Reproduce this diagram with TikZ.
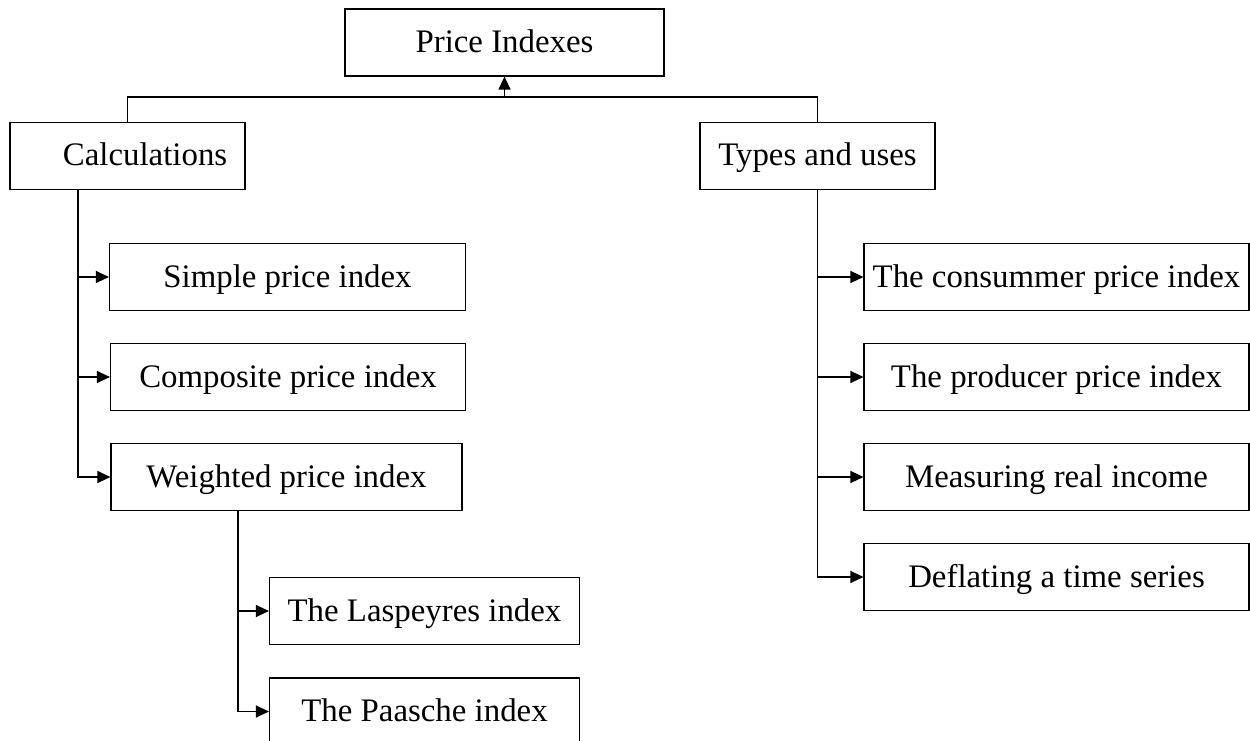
\documentclass[tikz,border=0pt]{standalone}
\usepackage{fontspec}
\setmainfont{Liberation Serif}
\usetikzlibrary{arrows.meta}

\tikzset{
  box/.style={draw, line width=0.7pt, minimum height=1.34cm, inner sep=0pt,
              text height=0.5cm, text depth=0.1cm,
              font=\fontsize{18.7}{22}\selectfont},
  arr/.style={-{Triangle[length=0.26cm, width=0.24cm]}, line width=0.7pt},
}

\begin{document}
\begin{tikzpicture}[x=0.02cm, y=-0.02cm]
\useasboundingbox (0,0) rectangle (1250,740);
\clip (0,0) rectangle (1250,740);
%
\node [box, minimum width=6.38cm] (top)   at (504.5, 42.5){Price Indexes};
\node [box, minimum width=4.7cm]  (calc)  at (127.5, 156) {\hspace*{1.07em}Calculations};
\node [box, minimum width=4.7cm]  (types) at (817.5, 156) {Types and uses};

\coordinate (bus) at (504.5, 97);
\draw[line width=0.7pt] (calc.north) |- (bus) -| (types.north);
\draw[arr] (bus) -- (top.south);

% calculations
\node [box, minimum width=7.12cm] (simple)    at (287.5, 277){Simple price index};
\node [box, minimum width=7.1cm]  (composite) at (288, 377)  {Composite price index};
\node [box, minimum width=7.02cm] (weighted)  at (286.5, 477){Weighted price index};

\draw[arr] ([xshift=-0.99cm]calc.south) |- (simple.west);
\draw[arr] ([xshift=-0.99cm]calc.south) |- (composite.west);
\draw[arr] ([xshift=-0.99cm]calc.south) |- (weighted.west);

\node [box, minimum width=6.2cm] (laspeyres) at (424.5, 611)  {The Laspeyres index};
\node [box, minimum width=6.2cm] (paasche)   at (424.5, 711.5){The Paasche index};

\draw[arr] ([xshift=-0.97cm]weighted.south) |- (laspeyres.west);
\draw[arr] ([xshift=-0.97cm]weighted.south) |- (paasche.west);

% types and uses
\node [box, minimum width=7.7cm] (consumer)  at (1056.5, 277){The consummer price index};
\node [box, minimum width=7.7cm] (producer)  at (1056.5, 377){The producer price index};
\node [box, minimum width=7.7cm] (income)    at (1056.5, 477){Measuring real income};
\node [box, minimum width=7.7cm] (deflating) at (1056.5, 577){Deflating a time series};

\draw[arr] (types.south) |- (consumer.west);
\draw[arr] (types.south) |- (producer.west);
\draw[arr] (types.south) |- (income.west);
\draw[arr] (types.south) |- (deflating.west);
\end{tikzpicture}
\end{document}
